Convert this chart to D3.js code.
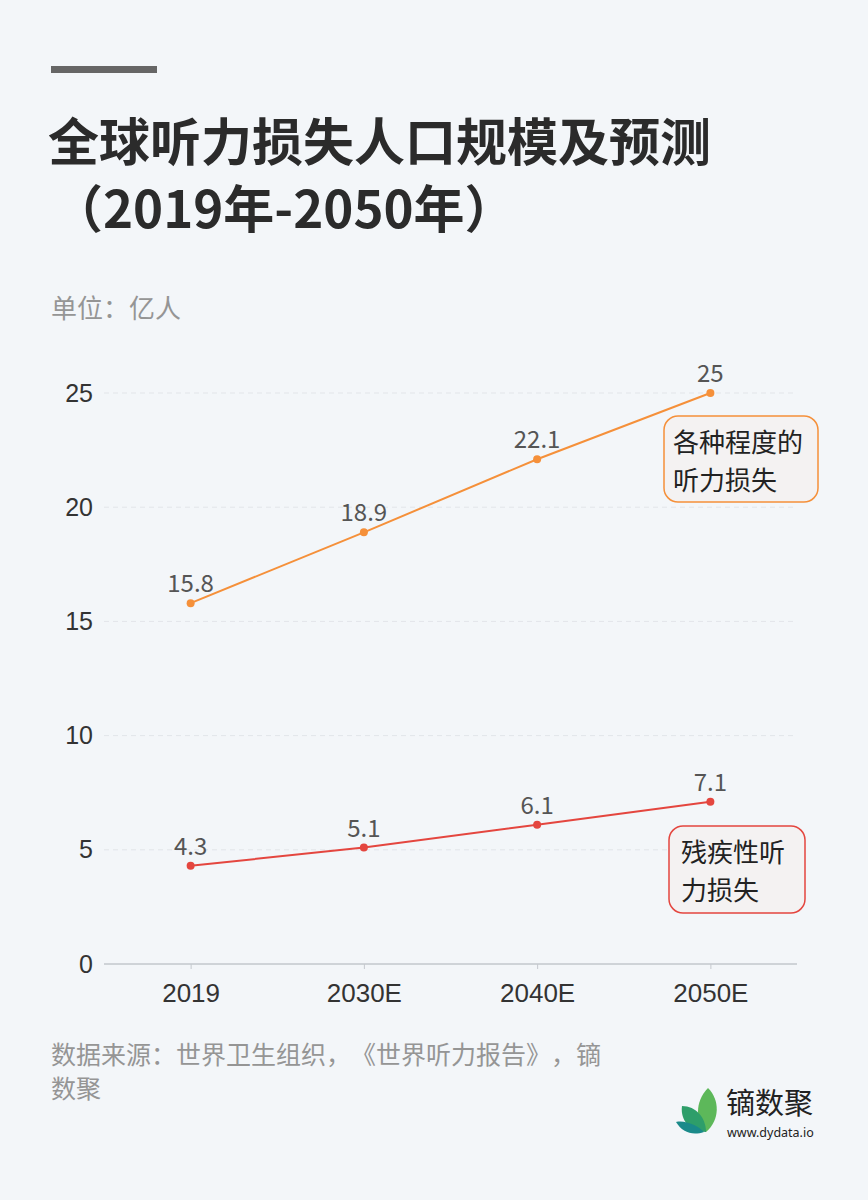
<!DOCTYPE html>
<html>
<head>
<meta charset="utf-8">
<script src="https://cdn.jsdelivr.net/npm/d3@7"></script>
<style>
  html, body { margin: 0; padding: 0; background: #f3f6f9; }
  svg { display: block; font-family: "Noto Sans CJK SC", "Noto Sans", sans-serif; text-spacing-trim: space-all; }
</style>
</head>
<body>
<div id="chart-area"></div>
<script>
// data
var years = ["2019", "2030E", "2040E", "2050E"];
var allLoss = [15.8, 18.9, 22.1, 25];
var disabling = [4.3, 5.1, 6.1, 7.1];
var yTicks = [0, 5, 10, 15, 20, 25];

var W = 868, H = 1200;
var margin = { left: 104, right: 71, top: 393, bottom: 236 };

var svg = d3.select("#chart-area")
    .append("svg")
    .attr("width", W)
    .attr("height", H);

svg.append("rect").attr("width", W).attr("height", H).attr("fill", "#f3f6f9");

// header bar + title
svg.append("rect")
    .attr("x", 51).attr("y", 66).attr("width", 106).attr("height", 7)
    .attr("fill", "#666");

svg.append("text")
    .attr("x", 48).attr("y", 161)
    .attr("font-size", "51px")
    .attr("font-weight", "bold")
    .attr("fill", "#2b2b2b")
    .text("全球听力损失人口规模及预测");
svg.append("text")
    .attr("x", 52).attr("y", 228)
    .attr("font-size", "51px")
    .attr("font-weight", "bold")
    .attr("fill", "#2b2b2b")
    .text("（2019年-2050年）");

svg.append("text")
    .attr("x", 51).attr("y", 318)
    .attr("font-size", "26px")
    .attr("fill", "#959595")
    .text("单位：亿人");

// scales
var x = d3.scalePoint()
    .domain(years)
    .range([margin.left, W - margin.right])
    .padding(0.5);

var y = d3.scaleLinear()
    .domain([0, 25])
    .range([964, 393]);

// grid
svg.append("g")
    .selectAll("line")
    .data(yTicks.slice(1))
    .enter().append("line")
    .attr("x1", margin.left).attr("x2", W - margin.right)
    .attr("y1", function(d){ return y(d); })
    .attr("y2", function(d){ return y(d); })
    .attr("stroke", "#e2e5e9")
    .attr("stroke-dasharray", "5,4");

// y axis
var yAxis = svg.append("g")
    .attr("transform", "translate(" + margin.left + ",0)")
    .call(d3.axisLeft(y).tickValues(yTicks).tickSize(0).tickPadding(11));
yAxis.select(".domain").remove();
yAxis.selectAll("text")
    .attr("font-size", "25px")
    .attr("fill", "#333");

// x axis
var xAxis = svg.append("g")
    .attr("transform", "translate(0," + y(0) + ")")
    .call(d3.axisBottom(x).tickSize(5).tickPadding(8).tickSizeOuter(0));
xAxis.select(".domain")
    .attr("d", "M" + margin.left + ",0H" + (W - margin.right))
    .attr("stroke", "#aab0b6");
xAxis.selectAll(".tick line").attr("stroke", "#c5c9ce");
xAxis.selectAll("text")
    .attr("font-size", "26px")
    .attr("fill", "#333")
    .attr("dy", "0.95em");

// lines
var series = [
    { values: allLoss, color: "#f5903a" },
    { values: disabling, color: "#e4463f" }
];

var line = d3.line()
    .x(function(d, i){ return x(years[i]); })
    .y(function(d){ return y(d); });

series.forEach(function(s){
    svg.append("path")
        .attr("d", line(s.values))
        .attr("fill", "none")
        .attr("stroke", s.color)
        .attr("stroke-width", 2);

    svg.append("g").selectAll("circle")
        .data(s.values)
        .enter().append("circle")
        .attr("cx", function(d, i){ return x(years[i]); })
        .attr("cy", function(d){ return y(d); })
        .attr("r", 4)
        .attr("fill", s.color);

    svg.append("g").selectAll("text")
        .data(s.values)
        .enter().append("text")
        .attr("x", function(d, i){ return x(years[i]); })
        .attr("y", function(d){ return y(d) - 11; })
        .attr("text-anchor", "middle")
        .attr("font-size", "24px")
        .attr("fill", "#555")
        .text(function(d){ return d; });
});

// annotation boxes
function noteBox(bx, by, bw, bh, color, lines, tx) {
    svg.append("rect")
        .attr("x", bx).attr("y", by).attr("width", bw).attr("height", bh)
        .attr("rx", 14).attr("ry", 14)
        .attr("fill", "#f4f2f2")
        .attr("stroke", color)
        .attr("stroke-width", 1.5);
    var t = svg.append("text")
        .attr("font-size", "26px")
        .attr("fill", "#222");
    lines.forEach(function(l, i){
        t.append("tspan").attr("x", tx).attr("y", by + 36 + i * 38).text(l);
    });
}
noteBox(664, 416, 154, 86, "#f5903a", ["各种程度的", "听力损失"], 673);
noteBox(669, 826, 136, 87, "#e4463f", ["残疾性听", "力损失"], 681);

// source
var src = svg.append("text")
    .attr("font-size", "25px")
    .attr("fill", "#959595");
src.append("tspan").attr("x", 51).attr("y", 1064).text("数据来源：世界卫生组织，《世界听力报告》，镝");
src.append("tspan").attr("x", 51).attr("y", 1098).text("数聚");

// logo
var logo = svg.append("g").attr("transform", "translate(676,1086)");
logo.append("path").attr("d", "M32,2 C44,14 44,34 30,46 C20,36 18,16 32,2 Z").attr("fill", "#5db85a");
logo.append("path").attr("d", "M6,20 C20,20 30,32 30,46 C14,46 4,34 6,20 Z").attr("fill", "#2e9e6a");
logo.append("path").attr("d", "M0,36 C10,34 22,40 28,46 C16,50 6,46 0,36 Z").attr("fill", "#1a8a8a");
svg.append("text")
    .attr("x", 726).attr("y", 1114)
    .attr("font-size", "29px")
    .attr("fill", "#222")
    .text("镝数聚");
svg.append("text")
    .attr("x", 727).attr("y", 1137)
    .attr("font-size", "12.5px")
    .attr("fill", "#222")
    .style("font-family", "'Noto Sans', sans-serif")
    .text("www.dydata.io");
</script>
</body>
</html>
